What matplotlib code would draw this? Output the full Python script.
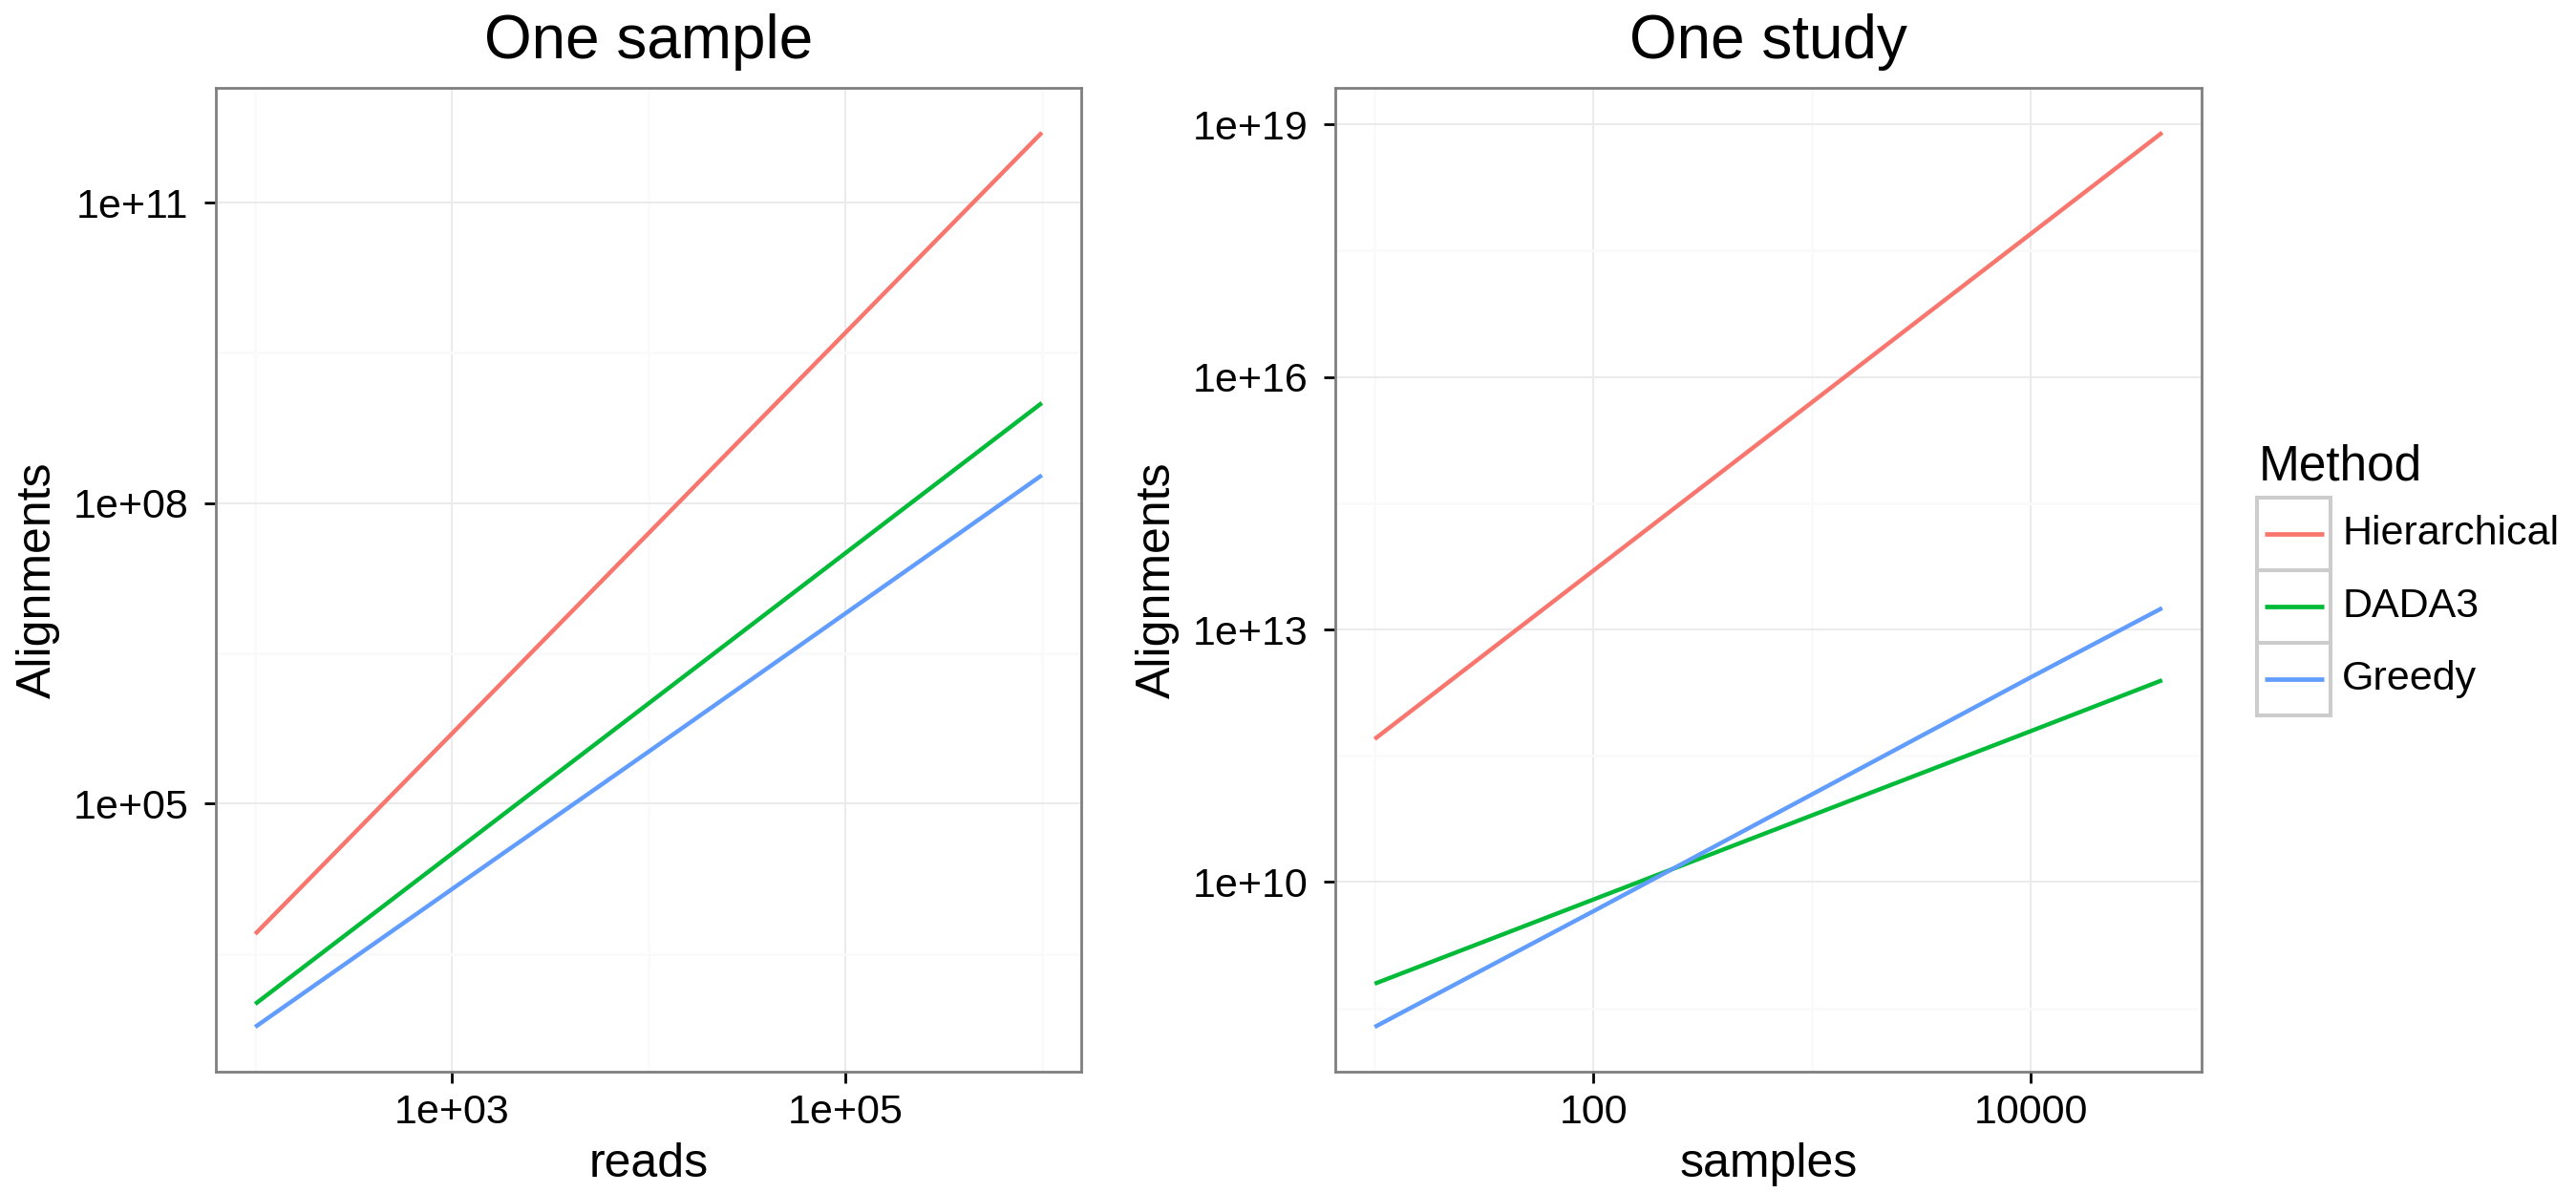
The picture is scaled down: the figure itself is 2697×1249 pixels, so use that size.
import numpy as np
import matplotlib
matplotlib.use("Agg")
import matplotlib.pyplot as plt
from matplotlib.patches import Rectangle
from matplotlib.ticker import FixedLocator, NullFormatter

plt.rcParams['font.family'] = ['Liberation Sans', 'DejaVu Sans']

# data
methods = ["Hierarchical", "DADA3", "Greedy"]
colors = ["#F8766D", "#00BA38", "#619CFF"]

reads = [1e2, 1e3, 1e4, 1e5, 1e6]
sample_hier = [5e3, 5e5, 5e7, 5e9, 5e11]
sample_dada = [1e3, 3.16e4, 1e6, 3.16e7, 1e9]
sample_greedy = [5.9e2, 1.4e4, 3.3e5, 7.9e6, 1.9e8]

samples = [10, 100, 1000, 10000, 40000]
study_hier = [5e11, 5e13, 5e15, 5e17, 8e18]
study_dada = [6.2e8, 6.2e9, 6.2e10, 6.2e11, 2.5e12]
study_greedy = [1.9e8, 4.5e9, 1.1e11, 2.7e12, 1.8e13]

# axis breaks / labels
sample_xticks = [1e3, 1e5]
sample_xlabels = ["1e+03", "1e+05"]
sample_xminor = [1e2, 1e4, 1e6]
sample_yticks = [1e5, 1e8, 1e11]
sample_ylabels = ["1e+05", "1e+08", "1e+11"]
sample_yminor = [10**3.5, 10**6.5, 10**9.5]

study_xticks = [100, 10000]
study_xlabels = ["100", "10000"]
study_xminor = [10, 1000]
study_yticks = [1e10, 1e13, 1e16, 1e19]
study_ylabels = ["1e+10", "1e+13", "1e+16", "1e+19"]
study_yminor = [10**8.5, 10**11.5, 10**14.5, 10**17.5]

W, H = 2697, 1249
fig = plt.figure(figsize=(W / 100, H / 100), dpi=100)


def px_axes(x0, y0, x1, y1):
    # pixel box (top-left origin) -> figure axes
    return fig.add_axes([x0 / W, 1 - y1 / H, (x1 - x0) / W, (y1 - y0) / H])


def log_limits(vals):
    lv = np.log10(np.asarray(vals, dtype=float))
    lo, hi = lv.min(), lv.max()
    pad = 0.05 * (hi - lo)
    return 10 ** (lo - pad), 10 ** (hi + pad)


def style_panel(ax, title, xlabel, xt, xl, xm, yt, yl, ym):
    ax.set_xscale("log")
    ax.set_yscale("log")
    ax.xaxis.set_major_locator(FixedLocator(xt))
    ax.xaxis.set_minor_locator(FixedLocator(xm))
    ax.yaxis.set_major_locator(FixedLocator(yt))
    ax.yaxis.set_minor_locator(FixedLocator(ym))
    ax.set_xticklabels(xl)
    ax.set_yticklabels(yl)
    ax.xaxis.set_minor_formatter(NullFormatter())
    ax.yaxis.set_minor_formatter(NullFormatter())
    ax.tick_params(which="major", length=8.5, width=2, color="black",
                   labelsize=31, labelcolor="black")
    ax.tick_params(axis="x", which="major", pad=8)
    ax.tick_params(axis="y", which="major", pad=12)
    ax.tick_params(which="minor", length=0)
    ax.grid(True, which="major", color="#EBEBEB", linewidth=1.5)
    ax.grid(True, which="minor", color="#FAFAFA", linewidth=2)
    ax.set_axisbelow(True)
    for s in ax.spines.values():
        s.set_color("#7F7F7F")
        s.set_linewidth(2)
    ax.set_title(title, fontsize=46, y=1.03, pad=0)
    ax.set_xlabel(xlabel, fontsize=36)
    ax.xaxis.set_label_coords(0.5, -0.072)
    ax.set_ylabel("Alignments", fontsize=36, va="center")
    ax.yaxis.set_label_coords(-0.205, 0.5)


# one sample
ax1 = px_axes(226, 92, 1132, 1122)
for ys, c in zip([sample_hier, sample_dada, sample_greedy], colors):
    ax1.plot(reads, ys, color=c, linewidth=3.2, solid_capstyle="butt")
ax1.set_xlim(*log_limits(reads))
ax1.set_ylim(*log_limits(sample_hier + sample_dada + sample_greedy))
style_panel(ax1, "One sample", "reads", sample_xticks, sample_xlabels, sample_xminor,
            sample_yticks, sample_ylabels, sample_yminor)

# one study
ax2 = px_axes(1398, 92, 2305, 1122)
for ys, c in zip([study_hier, study_dada, study_greedy], colors):
    ax2.plot(samples, ys, color=c, linewidth=3.2, solid_capstyle="butt")
ax2.set_xlim(*log_limits(samples))
ax2.set_ylim(*log_limits(study_hier + study_dada + study_greedy))
style_panel(ax2, "One study", "samples", study_xticks, study_xlabels, study_xminor,
            study_yticks, study_ylabels, study_yminor)

# legend, drawn in pixel space
lax = px_axes(2340, 440, 2697, 780)
lax.set_xlim(2340, 2697)
lax.set_ylim(780, 440)
lax.axis("off")
lax.text(2365, 502, "Method", fontsize=37, va="baseline", ha="left")
key_top, key_h = 520.7, 76
for i, (m, c) in enumerate(zip(methods, colors)):
    top = key_top + i * key_h
    lax.add_patch(Rectangle((2363, top), 77, key_h, facecolor="white",
                            edgecolor="#CCCCCC", linewidth=2.9, clip_on=False))
    yc = top + key_h / 2
    lax.plot([2371, 2433], [yc, yc], color=c, linewidth=3.4, solid_capstyle="butt")
    lax.text(2452, yc, m, fontsize=31, va="center", ha="left")

fig.savefig("out.png", dpi=100, facecolor="white")
